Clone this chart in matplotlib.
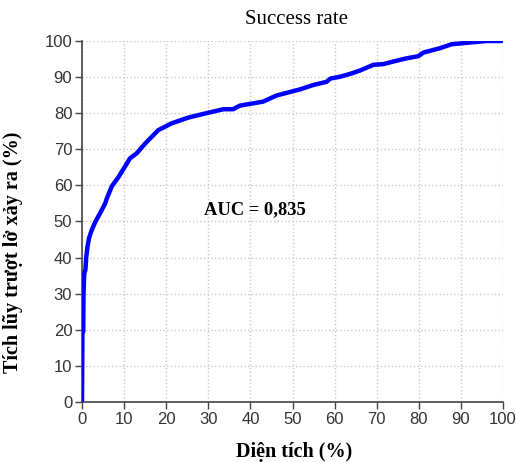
import matplotlib
matplotlib.use('Agg')
import matplotlib.pyplot as plt

# cumulative area (%) vs cumulative landslide occurrence (%)
area_pct = [0, 0.05, 0.1, 0.3, 0.35, 0.5, 0.6, 0.8, 1.0, 1.3, 1.7, 2.3, 3.2, 4.3,
            5.5, 5.9, 7.1, 8.6, 10.2, 11.4, 13.0, 15.0, 18.1, 21.3, 25.3, 28.8,
            33.6, 35.9, 37.5, 43.0, 46.2, 51.8, 54.9, 58.1, 59.0, 61.3, 63.7,
            66.0, 69.2, 71.6, 73.9, 77.1, 79.9, 81.1, 85.0, 87.8, 91.4, 96.1, 99.7]
occur_pct = [0, 10, 19, 19.5, 29, 35, 36, 36.5, 40, 43, 45.5, 47.6, 50, 52.3,
             55, 56.4, 59.8, 62.2, 65.2, 67.5, 68.9, 71.6, 75.3, 77.2, 78.8, 79.8,
             81.1, 81.1, 82.1, 83.2, 84.9, 86.6, 87.8, 88.7, 89.6, 90.1, 90.9,
             91.8, 93.4, 93.6, 94.3, 95.2, 95.8, 96.8, 98.0, 99.1, 99.5, 100, 100]
auc_text = 'AUC = 0,835'
ticks = list(range(0, 101, 10))

fig = plt.figure(figsize=(5.16, 4.62), dpi=100)
ax = fig.add_axes([82 / 516, 1 - 402 / 462, 421 / 516, 361 / 462])

ax.plot(area_pct, occur_pct, color='#0000ff', linewidth=3.2, solid_capstyle='round', zorder=3)

ax.set_xlim(0, 100)
ax.set_ylim(0, 100)
ax.set_xticks(ticks)
ax.set_yticks(ticks)
ax.grid(True, linestyle=':', color='#c8c8c8', linewidth=1)

for side in ['top', 'right']:
    ax.spines[side].set_visible(False)
for side in ['left', 'bottom']:
    ax.spines[side].set_color('#444444')
    ax.spines[side].set_linewidth(1.2)

ax.tick_params(direction='out', length=5, width=1, color='#444444', labelcolor='#333333',
               labelsize=12, pad=2)
for lbl in ax.get_xticklabels() + ax.get_yticklabels():
    lbl.set_family('Liberation Sans')

ax.set_title('Success rate', family='Liberation Serif', fontsize=15, pad=12, x=0.51)
ax.set_xlabel('Diện tích (%)', family='Liberation Serif', fontweight='bold', fontsize=14.5)
ax.set_ylabel('Tích lũy trượt lở xảy ra (%)', family='Liberation Serif', fontweight='bold',
              fontsize=14.5)
ax.xaxis.set_label_coords(0.505, -0.11)
ax.yaxis.set_label_coords(-0.14, 0.415)

ax.text(41, 53.3, auc_text, family='Liberation Serif', fontweight='bold', fontsize=13.3,
        ha='center', va='center')

fig.savefig('out.png', dpi=100)
